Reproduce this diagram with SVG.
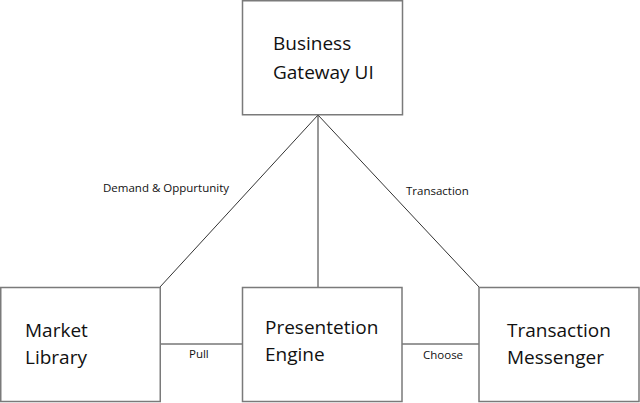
<svg xmlns="http://www.w3.org/2000/svg" width="640" height="403" viewBox="0 0 640 403">
<style>
.box{fill:#fff;stroke:#7a7a7a;stroke-width:1.5}
.t{font-family:"Open Sans","Liberation Sans",sans-serif;font-size:19px;fill:#111}
.l{font-family:"Open Sans","Liberation Sans",sans-serif;font-size:11.5px;fill:#111}
.c{stroke:#333;stroke-width:1;fill:none}
</style>
<rect width="640" height="403" fill="#fff"/>
<g id="connectors">
<line class="c" x1="318" y1="115" x2="160" y2="287"/>
<line class="c" x1="318" y1="115" x2="318" y2="287"/>
<line class="c" x1="318" y1="115" x2="479" y2="287"/>
<line class="c" x1="160" y1="344" x2="242" y2="344"/>
<line class="c" x1="402" y1="344" x2="479" y2="344"/>
<text class="l" x="103" y="192">Demand &amp; Oppurtunity</text>
<text class="l" x="406" y="195">Transaction</text>
<text class="l" x="189" y="358">Pull</text>
<text class="l" x="423" y="359">Choose</text>
</g>
<g id="business-gateway-ui">
<rect class="box" x="242.5" y="0.75" width="160" height="114"/>
<text class="t" x="273" y="50">Business</text>
<text class="t" x="273" y="79">Gateway UI</text>
</g>
<g id="market-library">
<rect class="box" x="0.75" y="287.5" width="159.5" height="114"/>
<text class="t" x="25" y="337">Market</text>
<text class="t" x="25" y="364">Library</text>
</g>
<g id="presentetion-engine">
<rect class="box" x="242.5" y="287.5" width="159.5" height="114"/>
<text class="t" x="265" y="334">Presentetion</text>
<text class="t" x="265" y="361">Engine</text>
</g>
<g id="transaction-messenger">
<rect class="box" x="479" y="287.5" width="160" height="114"/>
<text class="t" x="507" y="337">Transaction</text>
<text class="t" x="507" y="364">Messenger</text>
</g>
</svg>
